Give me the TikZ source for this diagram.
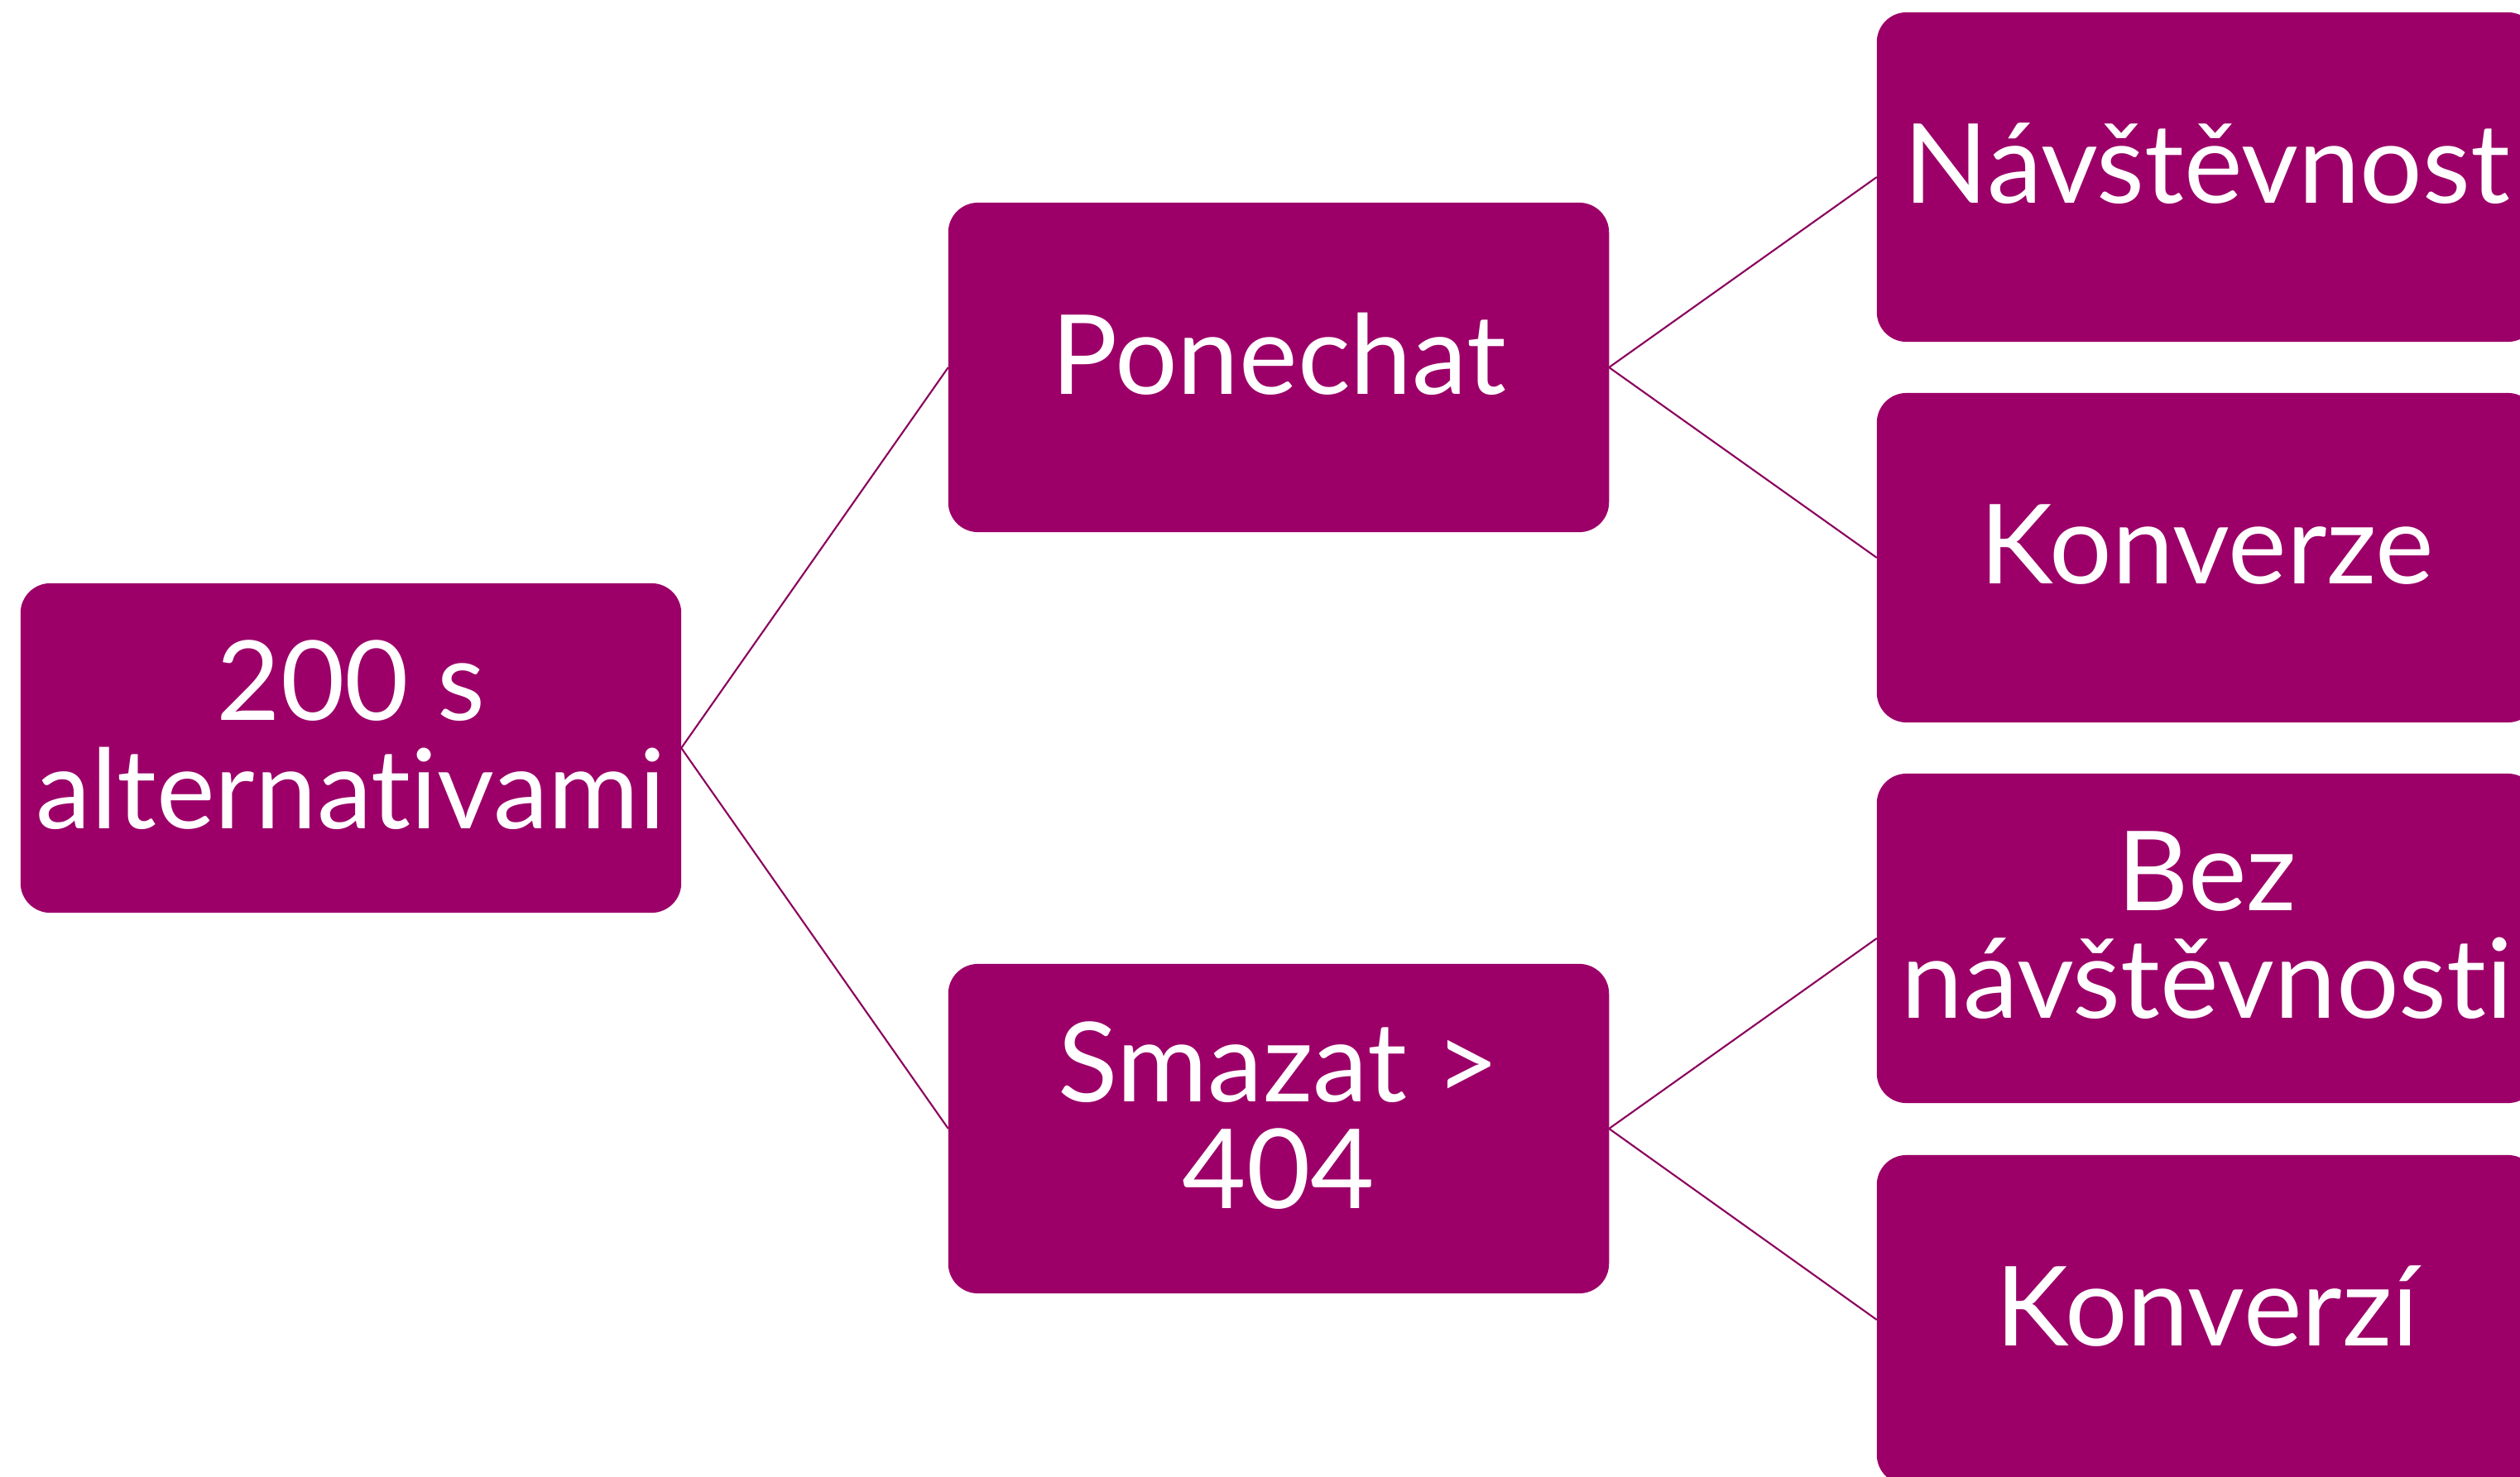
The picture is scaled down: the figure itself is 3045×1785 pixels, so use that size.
\documentclass[tikz,border=0pt]{standalone}
\usepackage{fontspec}
\setmainfont{Lato}[Ligatures={NoCommon,NoRare}]
\usepackage{xcolor}
\definecolor{plum}{HTML}{9C0068}
\definecolor{plumline}{HTML}{8A005C}
\renewcommand{\arraystretch}{0.9}
\newcommand{\lbl}[1]{\raisebox{0.12cm}{\begin{tabular}{@{}c@{}}#1\end{tabular}}}

\begin{document}
\begin{tikzpicture}[x=0.01cm, y=-0.01cm,
box/.style = {rounded corners=0.36cm, fill=plum, text=white,
            inner sep=0pt, outer sep=0pt,
            minimum width=7.98cm, minimum height=3.98cm,
            font=\fontsize{38}{34.6}\selectfont},
link/.style = {plumline, line width=0.6pt}
                ]
    \useasboundingbox (0,0) rectangle (3045,1785);
    \clip (0,0) rectangle (3045,1785);

    \def\dx{1121};
    \node[box] at (424,904) (root) {\lbl{200 s\\alternativami}};
    \node[box] at (424+\dx,444) (keep) {\lbl{Ponechat}};
    \node[box] at (424+\dx,1364) (del) {\lbl{Smazat >\\404}};

    \def\dx{2243};
    \node[box] at (424+\dx,214) (keepvisits) {\lbl{Návštěvnost}};
    \node[box] at (424+\dx,674) (keepconv) {\lbl{Konverze}};
    \node[box] at (424+\dx,1134) (delvisits) {\lbl{Bez\\návštěvnosti}};
    \node[box] at (424+\dx,1595) (delconv) {\lbl{Konverzí}};

    \foreach \a/\b in {root/keep, root/del, keep/keepvisits, keep/keepconv,
                       del/delvisits, del/delconv}
        \draw [link] (\a.east) -- (\b.west);
\end{tikzpicture}
\end{document}
